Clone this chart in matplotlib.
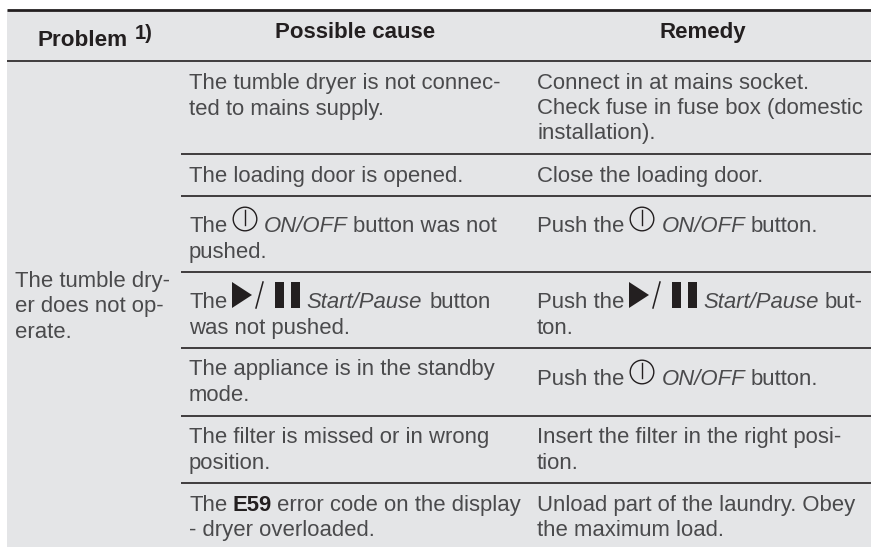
# Troubleshooting table drawn on a pixel-sized axes
import matplotlib
matplotlib.use('Agg')
import matplotlib.pyplot as plt
from matplotlib.patches import Circle, Polygon, Rectangle

plt.rcParams['font.family'] = ['Liberation Sans', 'DejaVu Sans']

# Table text
headers = ['Problem', 'Possible cause', 'Remedy']
footnote = '1)'
problem = ['The tumble dry-', 'er does not op-', 'erate.']
cause_1 = ['The tumble dryer is not connec-', 'ted to mains supply.']
cause_2 = ['The loading door is opened.']
cause_3 = ['The', 'ON/OFF', 'button was not', 'pushed.']
cause_4 = ['The', 'Start/Pause', 'button', 'was not pushed.']
cause_5 = ['The appliance is in the standby', 'mode.']
cause_6 = ['The filter is missed or in wrong', 'position.']
cause_7 = ['The', 'E59', 'error code on the display', '- dryer overloaded.']
remedy_1 = ['Connect in at mains socket.', 'Check fuse in fuse box (domestic', 'installation).']
remedy_2 = ['Close the loading door.']
remedy_3 = ['Push the', 'ON/OFF', 'button.']
remedy_4 = ['Push the', 'Start/Pause', 'but-', 'ton.']
remedy_6 = ['Insert the filter in the right posi-', 'tion.']
remedy_7 = ['Unload part of the laundry. Obey', 'the maximum load.']

BG = '#e4e5e7'
INK = '#4a4a4c'
DARK = '#231f20'
FS = 15.9
W, H = 871, 547

fig = plt.figure(figsize=(W / 100, H / 100), dpi=100)
ax = fig.add_axes([0, 0, 1, 1])
ax.set_xlim(0, W)
ax.set_ylim(H, 0)
ax.axis('off')

ax.add_patch(Rectangle((7, 10), W - 7, H - 10, color=BG, lw=0))
ax.plot([7, W], [10, 10], color=DARK, lw=2.0, solid_capstyle='butt')
for y in [61, 154, 196, 272, 348, 416, 483]:
    x0 = 7 if y == 61 else 181
    ax.plot([x0, W], [y, y], color=DARK, lw=1.2, solid_capstyle='butt')


def put(x, y, s, style='normal', weight='normal', size=FS, color=INK):
    ax.text(x, y, s, fontsize=size, fontstyle=style, fontweight=weight,
            color=color, va='baseline', ha='left')


def lines(x, ys, rows):
    for y, s in zip(ys, rows):
        put(x, y, s)


def power_icon(cx, cy):
    ax.add_patch(Circle((cx, cy), 11.8, fill=False, ec=DARK, lw=1.0))
    ax.plot([cx, cx], [cy - 9, cy + 5.5], color=DARK, lw=1.0)


def start_icon(x, base):
    ax.add_patch(Polygon([(x, base - 26), (x + 20, base - 13), (x, base)], color=DARK, lw=0))
    ax.plot([x + 24, x + 31], [base, base - 26], color=DARK, lw=1.1)
    ax.add_patch(Rectangle((x + 43, base - 26), 9, 26, color=DARK, lw=0))
    ax.add_patch(Rectangle((x + 59, base - 26), 9, 26, color=DARK, lw=0))


# Header
put(37, 46, headers[0], weight='bold', size=16.2, color=DARK)
put(135, 39, footnote, weight='bold', size=14.5, color=DARK)
put(275, 38, headers[1], weight='bold', size=16.0, color=DARK)
put(659, 38, headers[2], weight='bold', size=16.0, color=DARK)

# Problem column
lines(15, [287, 312, 338], problem)

# Possible cause column
CX = 189
lines(CX, [89, 115], cause_1)
lines(CX, [182], cause_2)
put(CX, 232, cause_3[0])
power_icon(245, 219)
put(264, 232, cause_3[1], style='italic')
put(353, 232, cause_3[2])
put(CX, 258, cause_3[3])
put(CX, 308, cause_4[0])
start_icon(232, 308)
put(306, 308, cause_4[1], style='italic')
put(430, 308, cause_4[2])
put(CX, 334, cause_4[3])
lines(CX, [375, 401], cause_5)
lines(CX, [443, 469], cause_6)
put(CX, 511, cause_7[0])
put(232, 511, cause_7[1], weight='bold', color=DARK)
put(277, 511, cause_7[2])
put(CX, 536, cause_7[3])

# Remedy column
RX = 537
lines(RX, [89, 114, 139], remedy_1)
lines(RX, [182], remedy_2)
put(RX, 232, remedy_3[0])
power_icon(642, 219)
put(662, 232, remedy_3[1], style='italic')
put(751, 232, remedy_3[2])
put(RX, 308, remedy_4[0])
start_icon(629, 308)
put(703, 308, remedy_4[1], style='italic')
put(825, 308, remedy_4[2])
put(RX, 334, remedy_4[3])
put(RX, 385, remedy_3[0])
power_icon(642, 372)
put(662, 385, remedy_3[1], style='italic')
put(751, 385, remedy_3[2])
lines(RX, [443, 469], remedy_6)
lines(RX, [511, 536], remedy_7)

fig.savefig('out.png', dpi=100)
